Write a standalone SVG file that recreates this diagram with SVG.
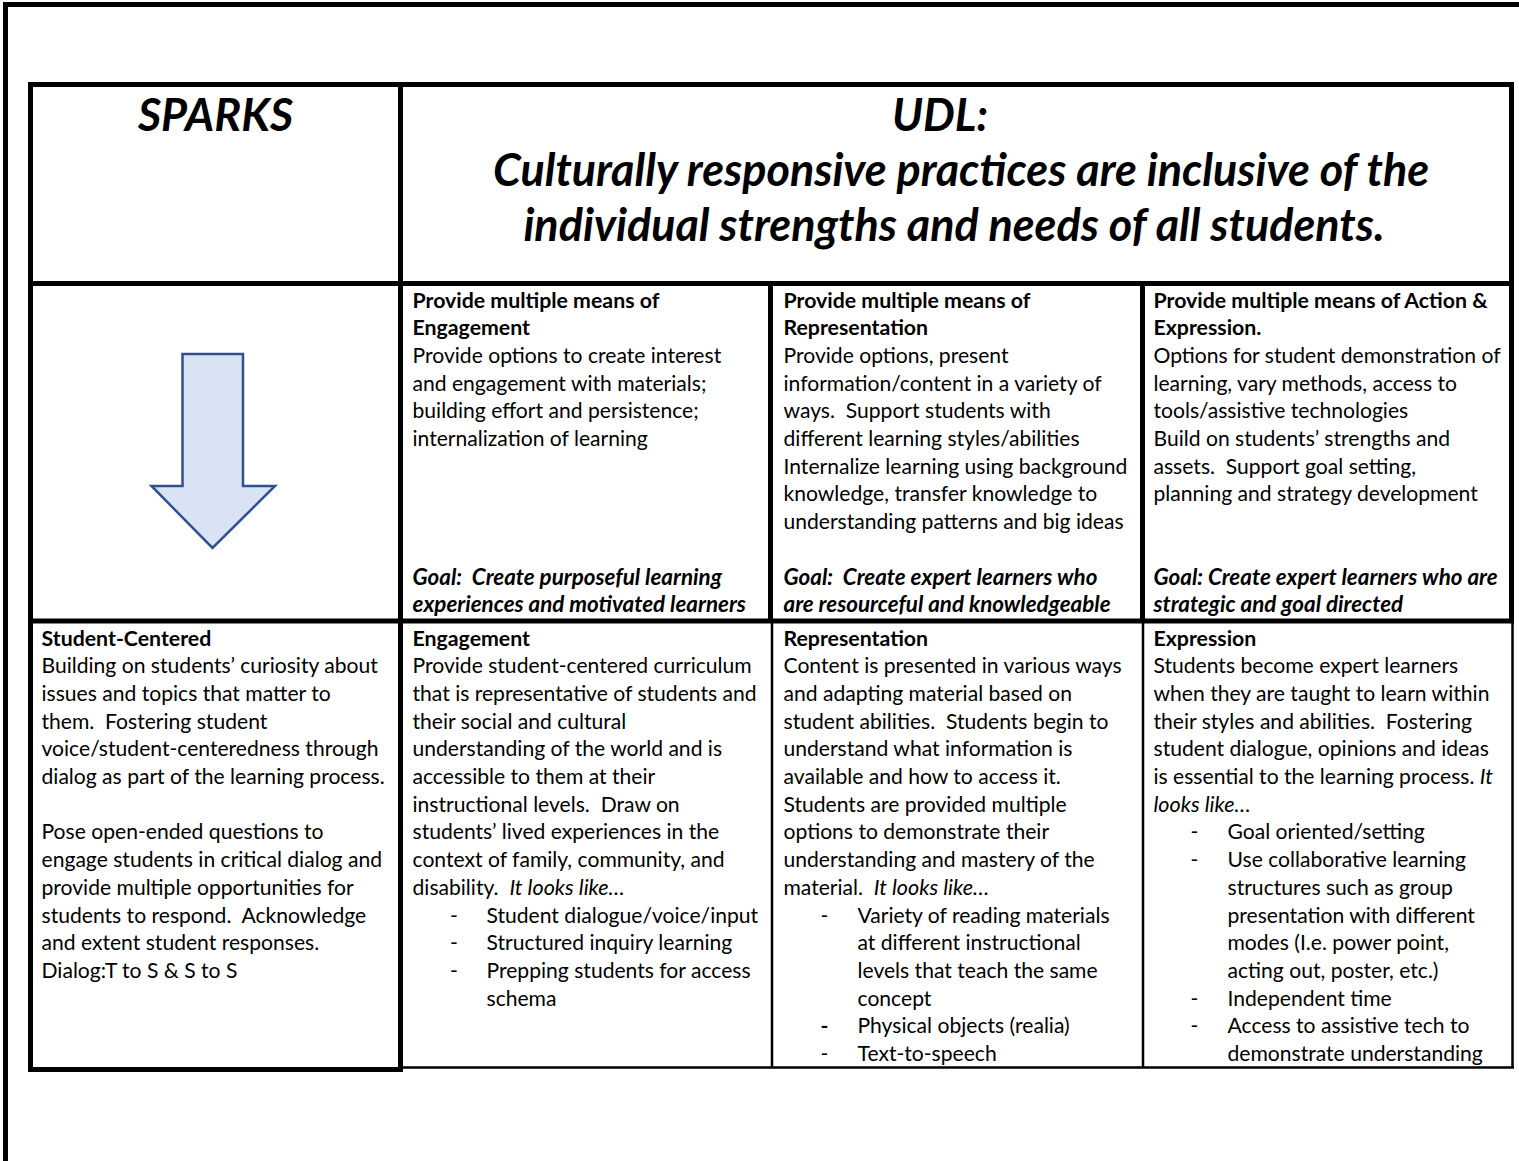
<svg xmlns="http://www.w3.org/2000/svg" width="1519" height="1161" viewBox="0 0 1519 1161">
<style>
text{font-family:Lato,"Liberation Sans",sans-serif;font-size:21.1px;fill:#000;white-space:pre}
.b{font-weight:bold;font-size:21.3px}
.i{font-style:italic;font-size:21.6px}
.bi{font-weight:bold;font-style:italic;font-size:22.4px}
.h{font-weight:bold;font-style:italic;font-size:44.9px;text-anchor:middle}
.thick{stroke:#000;stroke-width:5;fill:none}
.thin{stroke:#000;stroke-width:2.5;fill:none}
</style>
<rect width="1519" height="1161" fill="#fff"/>
<g id="connectors">
<path class="thick" d="M5.5,1165 V4.5 H1525"/>
<path class="thick" d="M28,84.5 H1514 M28,283.5 H1514 M28,621 H1514 M30.5,82 V1072 M400.5,82 V1072 M1511.5,82 V623 M770.5,283 V623 M1142.5,283 V623 M28,1069.5 H403"/>
<path class="thin" d="M772,621 V1068 M1143,621 V1068 M1512.5,621 V1068 M400,1067.5 H1514"/>
</g>
<g id="sparks-header">
<text class="h" x="215.5" y="131">SPARKS</text>
</g>
<g id="udl-header">
<text class="h" x="940" y="131">UDL:</text>
<text class="h" x="961" y="186">Culturally responsive practices are inclusive of the</text>
<text class="h" x="954" y="241">individual strengths and needs of all students.</text>
</g>
<g id="arrow">
<path d="M182.5,354 H243 V486 H275 L212.5,548 L151.5,486 H182.5 Z" fill="#dae3f3" stroke="#2f528f" stroke-width="2.5" stroke-linejoin="miter"/>
</g>
<g id="engagement-udl">
<text class="b" x="412.5" y="307.5">Provide multiple means of</text>
<text class="b" x="412.5" y="335.2">Engagement</text>
<text x="412.5" y="362.9">Provide options to create interest</text>
<text x="412.5" y="390.6">and engagement with materials;</text>
<text x="412.5" y="418.3">building effort and persistence;</text>
<text x="412.5" y="446">internalization of learning</text>
<text class="bi" x="412.5" y="584.5">Goal:  Create purposeful learning</text>
<text class="bi" x="412.5" y="612.2">experiences and motivated learners</text>
</g>
<g id="representation-udl">
<text class="b" x="783.5" y="307.5">Provide multiple means of</text>
<text class="b" x="783.5" y="335.2">Representation</text>
<text x="783.5" y="362.9">Provide options, present</text>
<text x="783.5" y="390.6">information/content in a variety of</text>
<text x="783.5" y="418.3">ways.  Support students with</text>
<text x="783.5" y="446">different learning styles/abilities</text>
<text x="783.5" y="473.7">Internalize learning using background</text>
<text x="783.5" y="501.4">knowledge, transfer knowledge to</text>
<text x="783.5" y="529.1">understanding patterns and big ideas</text>
<text class="bi" x="783.5" y="584.5">Goal:  Create expert learners who</text>
<text class="bi" x="783.5" y="612.2">are resourceful and knowledgeable</text>
</g>
<g id="action-expression-udl">
<text class="b" x="1153.5" y="307.5">Provide multiple means of Action &amp;</text>
<text class="b" x="1153.5" y="335.2">Expression.</text>
<text x="1153.5" y="362.9">Options for student demonstration of</text>
<text x="1153.5" y="390.6">learning, vary methods, access to</text>
<text x="1153.5" y="418.3">tools/assistive technologies</text>
<text x="1153.5" y="446">Build on students’ strengths and</text>
<text x="1153.5" y="473.7">assets.  Support goal setting,</text>
<text x="1153.5" y="501.4">planning and strategy development</text>
<text class="bi" x="1153.5" y="584.5">Goal: Create expert learners who are</text>
<text class="bi" x="1153.5" y="612.2">strategic and goal directed</text>
</g>
<g id="student-centered">
<text class="b" x="41.5" y="645.5">Student-Centered</text>
<text x="41.5" y="673.2">Building on students’ curiosity about</text>
<text x="41.5" y="700.9">issues and topics that matter to</text>
<text x="41.5" y="728.6">them.  Fostering student</text>
<text x="41.5" y="756.3">voice/student-centeredness through</text>
<text x="41.5" y="784">dialog as part of the learning process.</text>
<text x="41.5" y="839.4">Pose open-ended questions to</text>
<text x="41.5" y="867.1">engage students in critical dialog and</text>
<text x="41.5" y="894.8">provide multiple opportunities for</text>
<text x="41.5" y="922.5">students to respond.  Acknowledge</text>
<text x="41.5" y="950.2">and extent student responses.</text>
<text x="41.5" y="977.9">Dialog:T to S &amp; S to S</text>
</g>
<g id="engagement">
<text class="b" x="412.5" y="645.5">Engagement</text>
<text x="412.5" y="673.2">Provide student-centered curriculum</text>
<text x="412.5" y="700.9">that is representative of students and</text>
<text x="412.5" y="728.6">their social and cultural</text>
<text x="412.5" y="756.3">understanding of the world and is</text>
<text x="412.5" y="784">accessible to them at their</text>
<text x="412.5" y="811.7">instructional levels.  Draw on</text>
<text x="412.5" y="839.4">students’ lived experiences in the</text>
<text x="412.5" y="867.1">context of family, community, and</text>
<text x="412.5" y="894.8">disability.  <tspan class="i">It looks like…</tspan></text>
<text x="450" y="922.5">-</text><text x="486.5" y="922.5">Student dialogue/voice/input</text>
<text x="450" y="950.2">-</text><text x="486.5" y="950.2">Structured inquiry learning</text>
<text x="450" y="977.9">-</text><text x="486.5" y="977.9">Prepping students for access</text>
<text x="486.5" y="1005.6">schema</text>
</g>
<g id="representation">
<text class="b" x="783.5" y="645.5">Representation</text>
<text x="783.5" y="673.2">Content is presented in various ways</text>
<text x="783.5" y="700.9">and adapting material based on</text>
<text x="783.5" y="728.6">student abilities.  Students begin to</text>
<text x="783.5" y="756.3">understand what information is</text>
<text x="783.5" y="784">available and how to access it.</text>
<text x="783.5" y="811.7">Students are provided multiple</text>
<text x="783.5" y="839.4">options to demonstrate their</text>
<text x="783.5" y="867.1">understanding and mastery of the</text>
<text x="783.5" y="894.8">material.  <tspan class="i">It looks like…</tspan></text>
<text x="820.5" y="922.5">-</text><text x="857.5" y="922.5">Variety of reading materials</text>
<text x="857.5" y="950.2">at different instructional</text>
<text x="857.5" y="977.9">levels that teach the same</text>
<text x="857.5" y="1005.6">concept</text>
<text class="b" x="820.5" y="1033.3">-</text><text x="857.5" y="1033.3">Physical objects (realia)</text>
<text x="820.5" y="1061">-</text><text x="857.5" y="1061">Text-to-speech</text>
</g>
<g id="expression">
<text class="b" x="1153.5" y="645.5">Expression</text>
<text x="1153.5" y="673.2">Students become expert learners</text>
<text x="1153.5" y="700.9">when they are taught to learn within</text>
<text x="1153.5" y="728.6">their styles and abilities.  Fostering</text>
<text x="1153.5" y="756.3">student dialogue, opinions and ideas</text>
<text x="1153.5" y="784">is essential to the learning process. <tspan class="i">It</tspan></text>
<text class="i" x="1153.5" y="811.7">looks like…</text>
<text x="1190.5" y="839.4">-</text><text x="1227.5" y="839.4">Goal oriented/setting</text>
<text x="1190.5" y="867.1">-</text><text x="1227.5" y="867.1">Use collaborative learning</text>
<text x="1227.5" y="894.8">structures such as group</text>
<text x="1227.5" y="922.5">presentation with different</text>
<text x="1227.5" y="950.2">modes (I.e. power point,</text>
<text x="1227.5" y="977.9">acting out, poster, etc.)</text>
<text x="1190.5" y="1005.6">-</text><text x="1227.5" y="1005.6">Independent time</text>
<text x="1190.5" y="1033.3">-</text><text x="1227.5" y="1033.3">Access to assistive tech to</text>
<text x="1227.5" y="1061">demonstrate understanding</text>
</g>
</svg>
